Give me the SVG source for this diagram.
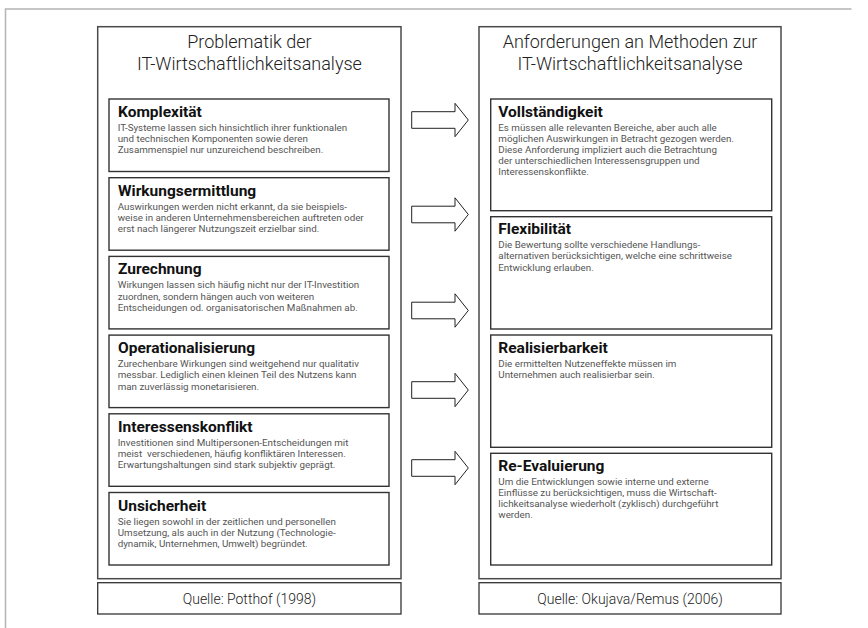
<svg xmlns="http://www.w3.org/2000/svg" xmlns:xlink="http://www.w3.org/1999/xlink" width="868" height="628" viewBox="0 0 868 628">
  <style>
    .frame { fill: none; stroke: #b4b4b4; stroke-width: 1.5; }
    .col { fill: #fff; stroke: #4a4a4a; stroke-width: 1.5; }
    .card { fill: #fff; stroke: #333; stroke-width: 1.4; }
    .src { fill: #fff; stroke: #333; stroke-width: 1.3; }
    .head { font-family: Roboto, "Liberation Sans", sans-serif; font-weight: 300; font-size: 18px; fill: #222; text-anchor: middle; }
    .foot { font-family: Roboto, "Liberation Sans", sans-serif; font-weight: 300; font-size: 14px; fill: #222; text-anchor: middle; }
    .ttl { font-family: Roboto, "Liberation Sans", sans-serif; font-weight: 700; font-size: 15.5px; fill: #111; }
    .txt { font-family: Roboto, "Liberation Sans", sans-serif; font-weight: 400; font-size: 9.8px; fill: #555; }
    .arr { fill: #fff; stroke: #222; stroke-width: 1; }
  </style>
  <defs>
    <!-- block arrow, origin at the left end of the shaft, vertical centre -->
    <path id="blockArrow" class="arr" d="M0,-8.3 H43.3 V-16.7 L56.6,0 L43.3,16.7 V8.3 H0 Z"/>
  </defs>

  <rect width="868" height="628" fill="#fff"/>
  <path class="frame" d="M5.5,628 V9 H851.5"/>

  <!-- left column -->
  <g id="problematik">
    <rect class="col" x="97.7" y="26.7" width="303.3" height="552"/>
    <text class="head" x="249.4" y="48.3">Problematik der</text>
    <text class="head" x="249.4" y="70">IT-Wirtschaftlichkeitsanalyse</text>
  </g>

  <g id="komplexitaet">
    <rect class="card" x="109" y="99" width="280" height="72.5"/>
    <text class="ttl" x="118" y="117">Komplexität</text>
    <text class="txt" x="117.7" y="131">IT-Systeme lassen sich hinsichtlich ihrer funktionalen</text>
    <text class="txt" x="117.7" y="142.2">und technischen Komponenten sowie deren</text>
    <text class="txt" x="117.7" y="153.4">Zusammenspiel nur unzureichend beschreiben.</text>
  </g>

  <g id="wirkungsermittlung">
    <rect class="card" x="109" y="177.7" width="280" height="72.5"/>
    <text class="ttl" x="118" y="195.7">Wirkungsermittlung</text>
    <text class="txt" x="117.7" y="209.7">Auswirkungen werden nicht erkannt, da sie beispiels-</text>
    <text class="txt" x="117.7" y="220.9">weise in anderen Unternehmensbereichen auftreten oder</text>
    <text class="txt" x="117.7" y="232.1">erst nach längerer Nutzungszeit erzielbar sind.</text>
  </g>

  <g id="zurechnung">
    <rect class="card" x="109" y="256.4" width="280" height="72.5"/>
    <text class="ttl" x="118" y="274.4">Zurechnung</text>
    <text class="txt" x="117.7" y="288.4">Wirkungen lassen sich häufig nicht nur der IT-Investition</text>
    <text class="txt" x="117.7" y="299.6">zuordnen, sondern hängen auch von weiteren</text>
    <text class="txt" x="117.7" y="310.8">Entscheidungen od. organisatorischen Maßnahmen ab.</text>
  </g>

  <g id="operationalisierung">
    <rect class="card" x="109" y="335.1" width="280" height="72.5"/>
    <text class="ttl" x="118" y="353.1">Operationalisierung</text>
    <text class="txt" x="117.7" y="367.1">Zurechenbare Wirkungen sind weitgehend nur qualitativ</text>
    <text class="txt" x="117.7" y="378.3">messbar. Lediglich einen kleinen Teil des Nutzens kann</text>
    <text class="txt" x="117.7" y="389.5">man zuverlässig monetarisieren.</text>
  </g>

  <g id="interessenskonflikt">
    <rect class="card" x="109" y="413.8" width="280" height="72.5"/>
    <text class="ttl" x="118" y="431.8">Interessenskonflikt</text>
    <text class="txt" x="117.7" y="445.8">Investitionen sind Multipersonen-Entscheidungen mit</text>
    <text class="txt" x="117.7" y="457" style="white-space:pre">meist  verschiedenen, häufig konfliktären Interessen.</text>
    <text class="txt" x="117.7" y="468.2">Erwartungshaltungen sind stark subjektiv geprägt.</text>
  </g>

  <g id="unsicherheit">
    <rect class="card" x="109" y="492.5" width="280" height="72.5"/>
    <text class="ttl" x="118" y="510.5">Unsicherheit</text>
    <text class="txt" x="117.7" y="524.5">Sie liegen sowohl in der zeitlichen und personellen</text>
    <text class="txt" x="117.7" y="535.7">Umsetzung, als auch in der Nutzung (Technologie-</text>
    <text class="txt" x="117.7" y="546.9">dynamik, Unternehmen, Umwelt) begründet.</text>
  </g>

  <g id="quelle-links">
    <rect class="src" x="97.7" y="582.7" width="303.3" height="31.3"/>
    <text class="foot" x="249.4" y="603.5">Quelle: Potthof (1998)</text>
  </g>

  <!-- right column -->
  <g id="anforderungen">
    <rect class="col" x="479" y="26.7" width="302" height="552"/>
    <text class="head" x="630" y="48.3">Anforderungen an Methoden zur</text>
    <text class="head" x="630" y="70">IT-Wirtschaftlichkeitsanalyse</text>
  </g>

  <g id="vollstaendigkeit">
    <rect class="card" x="490.7" y="99" width="281" height="111.7"/>
    <text class="ttl" x="498.3" y="116.7">Vollständigkeit</text>
    <text class="txt" x="498.3" y="130.5">Es müssen alle relevanten Bereiche, aber auch alle</text>
    <text class="txt" x="498.3" y="141.7">möglichen Auswirkungen in Betracht gezogen werden.</text>
    <text class="txt" x="498.3" y="152.9">Diese Anforderung impliziert auch die Betrachtung</text>
    <text class="txt" x="498.3" y="164.1">der unterschiedlichen Interessensgruppen und</text>
    <text class="txt" x="498.3" y="175.3">Interessenskonflikte.</text>
  </g>

  <g id="flexibilitaet">
    <rect class="card" x="490.7" y="216.7" width="281" height="112.3"/>
    <text class="ttl" x="498.3" y="234.4">Flexibilität</text>
    <text class="txt" x="498.3" y="248.2">Die Bewertung sollte verschiedene Handlungs-</text>
    <text class="txt" x="498.3" y="259.4">alternativen berücksichtigen, welche eine schrittweise</text>
    <text class="txt" x="498.3" y="270.6">Entwicklung erlauben.</text>
  </g>

  <g id="realisierbarkeit">
    <rect class="card" x="490.7" y="335" width="281" height="112.3"/>
    <text class="ttl" x="498.3" y="352.7">Realisierbarkeit</text>
    <text class="txt" x="498.3" y="366.5">Die ermittelten Nutzeneffekte müssen im</text>
    <text class="txt" x="498.3" y="377.7">Unternehmen auch realisierbar sein.</text>
  </g>

  <g id="re-evaluierung">
    <rect class="card" x="490.7" y="453.3" width="281" height="111.7"/>
    <text class="ttl" x="498.3" y="471">Re-Evaluierung</text>
    <text class="txt" x="498.3" y="484.8">Um die Entwicklungen sowie interne und externe</text>
    <text class="txt" x="498.3" y="496">Einflüsse zu berücksichtigen, muss die Wirtschaft-</text>
    <text class="txt" x="498.3" y="507.2">lichkeitsanalyse wiederholt (zyklisch) durchgeführt</text>
    <text class="txt" x="498.3" y="518.4">werden.</text>
  </g>

  <g id="quelle-rechts">
    <rect class="src" x="479" y="582.7" width="302" height="31.3"/>
    <text class="foot" x="630" y="603.5">Quelle: Okujava/Remus (2006)</text>
  </g>

  <!-- connectors between the columns -->
  <g id="connectors">
    <use xlink:href="#blockArrow" x="411.7" y="120"/>
    <use xlink:href="#blockArrow" x="411.7" y="214.5"/>
    <use xlink:href="#blockArrow" x="411.7" y="310.5"/>
    <use xlink:href="#blockArrow" x="411.7" y="390"/>
    <use xlink:href="#blockArrow" x="411.7" y="468"/>
  </g>
</svg>
